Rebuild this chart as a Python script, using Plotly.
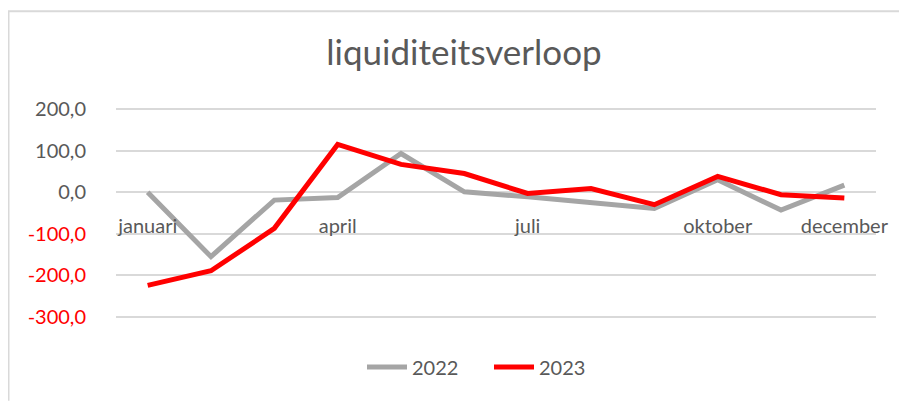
import plotly.graph_objects as go

months = ["januari", "februari", "maart", "april", "mei", "juni", "juli",
          "augustus", "september", "oktober", "november", "december"]
v2022 = [0, -155, -19, -13, 93, 1, -11, -25, -39, 30, -43, 17]
v2023 = [-224, -189, -87, 115, 67, 45, -3, 9, -30, 38, -6, -14]
shown_months = ["januari", "april", "juli", "oktober", "december"]
y_ticks = [200, 100, 0, -100, -200, -300]
y_labels = ["200,0", "100,0", "0,0", "-100,0", "-200,0", "-300,0"]

FONT = "Lato, 'Open Sans', sans-serif"
GREY_TXT = "#595959"

OFF = 8  # page body margin
PAD = 5  # value padding so edge gridlines are drawn
Y_MIN, Y_MAX = -300 - PAD, 200 + PAD
UNIT = 208 / 500  # px per value unit
W, H = 907 - OFF, 401 - OFF
L, R = 116 - OFF, 31
T = 109 - PAD * UNIT - OFF
B = 401 - (317 + PAD * UNIT)
pw, ph = W - L - R, H - T - B


def px(x):
    """page pixel x -> paper fraction"""
    return (x - OFF - L) / pw


def py(y):
    """page pixel y -> paper fraction"""
    return (H - B - (y - OFF)) / ph


fig = go.Figure()
fig.add_trace(go.Scatter(x=months, y=v2022, mode="lines", name="2022",
                         line=dict(color="#A5A5A5", width=5)))
fig.add_trace(go.Scatter(x=months, y=v2023, mode="lines", name="2023",
                         line=dict(color="#FF0000", width=5)))

ticktext = [t if v >= 0 else f"<span style='color:#FF0000'>{t}</span>"
            for v, t in zip(y_ticks, y_labels)]

fig.update_layout(
    width=W, height=H,
    margin=dict(l=L, r=R, t=T, b=B),
    paper_bgcolor="white", plot_bgcolor="white",
    font=dict(family=FONT, color=GREY_TXT, size=20),
    title=dict(text="liquiditeitsverloop", xref="container",
               x=(464 - OFF) / W, xanchor="center",
               yref="container", y=1 - (53 - OFF) / H, yanchor="middle",
               font=dict(size=35, color=GREY_TXT, family=FONT)),
    showlegend=True,
    legend=dict(orientation="h", x=px(489), xanchor="center", y=py(367),
                yanchor="middle", font=dict(size=20, color=GREY_TXT),
                itemwidth=40, entrywidth=72, entrywidthmode="pixels"),
    xaxis=dict(type="category", categoryorder="array", categoryarray=months,
               tickvals=shown_months, ticktext=shown_months,
               anchor="free", position=(0 - Y_MIN) / (Y_MAX - Y_MIN),
               showgrid=False, showline=False, ticks="",
               ticklabelstandoff=20,
               tickfont=dict(size=20, color=GREY_TXT),
               range=[-0.5, 11.5]),
    yaxis=dict(range=[Y_MIN, Y_MAX], tickvals=y_ticks, ticktext=ticktext,
               showgrid=True, gridcolor="#D9D9D9", gridwidth=1.5,
               zeroline=False, showline=False, ticks="",
               ticklabelstandoff=29,
               tickfont=dict(size=20, color=GREY_TXT)),
)

# chart frame (top and left edges visible)
fig.add_shape(type="line", xref="paper", yref="paper",
              x0=px(5), x1=px(907), y0=py(11), y1=py(11),
              line=dict(color="#D9D9D9", width=2))
fig.add_shape(type="line", xref="paper", yref="paper",
              x0=px(8.5), x1=px(8.5), y0=py(11), y1=py(401),
              line=dict(color="#D9D9D9", width=2))

fig.write_html("out.html")
